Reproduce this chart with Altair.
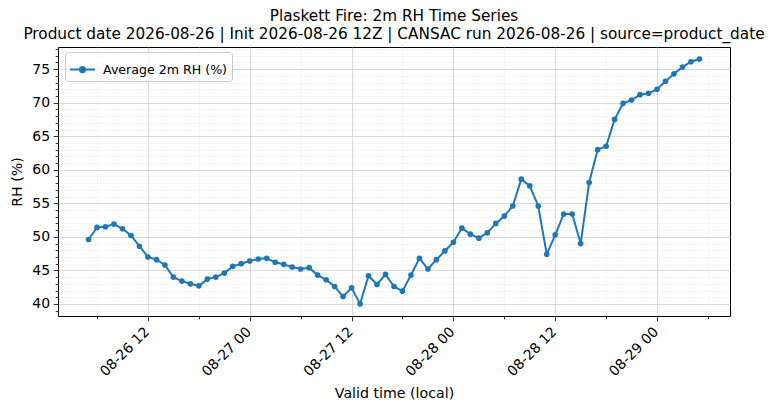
import altair as alt
import pandas as pd

# hourly valid times (local)
times = pd.date_range("2026-08-26 05:00", "2026-08-29 05:00", freq="h")

# average 2m RH (%)
rh = [49.6, 51.4, 51.5, 51.9, 51.2, 50.2, 48.6, 47.0, 46.6, 45.8,
      44.0, 43.4, 43.0, 42.7, 43.7, 44.0, 44.6, 45.6, 46.0, 46.4,
      46.7, 46.8, 46.2, 45.9, 45.5, 45.2, 45.4, 44.3, 43.6, 42.6,
      41.1, 42.4, 40.0, 44.2, 42.9, 44.4, 42.6, 41.9, 44.3, 46.8,
      45.2, 46.6, 47.9, 49.2, 51.3, 50.4, 49.8, 50.6, 52.0, 53.1,
      54.6, 58.6, 57.6, 54.6, 47.4, 50.3, 53.4, 53.4, 49.0, 58.1,
      63.0, 63.5, 67.5, 69.9, 70.4, 71.2, 71.4, 72.0, 73.2, 74.3,
      75.3, 76.1, 76.5]

series_name = "Average 2m RH (%)"
title_lines = ["Plaskett Fire: 2m RH Time Series",
               "Product date 2026-08-26 | Init 2026-08-26 12Z | CANSAC run 2026-08-26 | source=product_date"]

major_x_ticks = [(26, 12), (27, 0), (27, 12), (28, 0), (28, 12), (29, 0)]
minor_x_ticks = [(26, 6), (26, 18), (27, 6), (27, 18), (28, 6), (28, 18), (29, 6)]
major_y_ticks = [40, 45, 50, 55, 60, 65, 70, 75]
minor_y_ticks = [v for v in range(39, 79) if v % 5 != 0]

df = pd.DataFrame({"time": times, "rh": rh, "series": series_name})

def dt(d, h, m=0):
    return alt.DateTime(year=2026, month=8, date=d, hours=h, minutes=m)

x_scale = alt.Scale(domain=[dt(26, 1, 24), dt(29, 8, 36)])
y_scale = alt.Scale(domain=[38.2, 78.3], nice=False, zero=False)
FONT = "DejaVu Sans"
BLUE = "#1f77b4"

# minor ticks + dotted minor grid
minor = alt.Chart(df).mark_line(opacity=0).encode(
    x=alt.X("time:T", scale=x_scale,
            axis=alt.Axis(orient="bottom", values=[dt(d, h) for d, h in minor_x_ticks],
                          labels=False, title=None, domain=False,
                          tickSize=2.8, tickColor="black", tickWidth=0.8,
                          grid=True, gridColor="#d9d9d9", gridDash=[1, 2], gridWidth=0.6)),
    y=alt.Y("rh:Q", scale=y_scale,
            axis=alt.Axis(orient="left", values=minor_y_ticks,
                          labels=False, title=None, domain=False,
                          tickSize=2.8, tickColor="black", tickWidth=0.8,
                          grid=True, gridColor="#d9d9d9", gridDash=[1, 2], gridWidth=0.6)),
)

legend = alt.Legend(
    title=None, orient="none", legendX=7, legendY=5,
    symbolType="M-1,0H1M-0.21,0A0.21,0.21 0 1,1 0.21,0A0.21,0.21 0 1,1 -0.21,0",
    symbolSize=625, symbolStrokeWidth=2, labelOffset=7,
    symbolFillColor=BLUE, symbolStrokeColor=BLUE,
    labelFont=FONT, labelFontSize=12.6, labelColor="black",
    fillColor="rgba(255,255,255,0.8)", strokeColor="#cccccc", cornerRadius=3,
)

main = alt.Chart(df).mark_line(
    strokeWidth=2, point=alt.OverlayMarkDef(filled=True, size=32, opacity=1)
).encode(
    x=alt.X("time:T", scale=x_scale,
            axis=alt.Axis(orient="bottom", values=[dt(d, h) for d, h in major_x_ticks],
                          format="%m-%d %H", labelAngle=-45, labelAlign="right",
                          labelBaseline="top", labelPadding=3.5, labelOffset=-6,
                          labelOverlap=False, labelFlush=False, labelFont=FONT,
                          labelFontSize=14, labelColor="black", domain=False,
                          tickSize=4.8, tickColor="black", tickWidth=0.8,
                          grid=True, gridColor="#cfcfcf", gridWidth=0.8,
                          title="Valid time (local)", titleFont=FONT, titleFontSize=14.2,
                          titleFontWeight="normal", titleColor="black", titlePadding=7.5)),
    y=alt.Y("rh:Q", scale=y_scale,
            axis=alt.Axis(orient="left", values=major_y_ticks, labelPadding=3.5,
                          labelFont=FONT, labelFontSize=14, labelColor="black",
                          domain=False, tickSize=4.8, tickColor="black", tickWidth=0.8,
                          grid=True, gridColor="#cfcfcf", gridWidth=0.8,
                          title="RH (%)", titleFont=FONT, titleFontSize=14.2,
                          titleFontWeight="normal", titleColor="black", titlePadding=7)),
    color=alt.Color("series:N", scale=alt.Scale(range=[BLUE]), legend=legend),
)

chart = alt.layer(minor, main).resolve_axis(
    x="independent", y="independent"
).properties(
    width=672, height=269,
    autosize=alt.AutoSizeParams(type="none"),
    padding={"left": 50, "top": 39, "right": 37, "bottom": 85},
    title=alt.TitleParams(title_lines, font=FONT, fontSize=15.3, fontWeight="normal",
                          color="black", anchor="middle", lineHeight=17.5, offset=5),
).configure_view(stroke="black", strokeWidth=1).configure_legend(padding=4)

chart.save("out.html", embed_options={"renderer": "svg", "actions": False})
